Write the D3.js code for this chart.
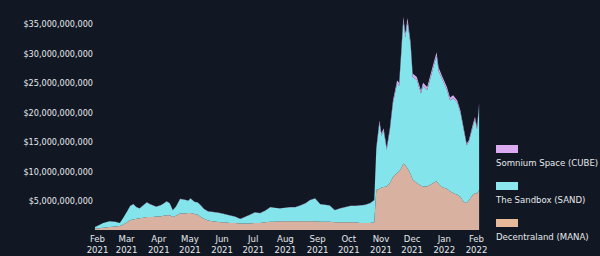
<!DOCTYPE html>
<html>
<head>
<meta charset="utf-8">
<script src="https://cdn.jsdelivr.net/npm/d3@7"></script>
<style>
    body { margin: 0; background: #111823; }
    svg text { font-family: "DejaVu Sans", sans-serif; font-stretch: condensed; fill: #e6e8ec; }
</style>
</head>
<body>
<div id="chart"></div>
<script>
// Market cap of metaverse tokens, Feb 2021 - Feb 2022 (values in USD billions)
const dates = [
    "2021-01-30", "2021-02-07", "2021-02-13", "2021-02-19", "2021-02-23", "2021-02-26",
    "2021-03-02", "2021-03-05", "2021-03-08", "2021-03-11", "2021-03-14", "2021-03-18",
    "2021-03-21", "2021-03-24", "2021-03-27", "2021-03-30", "2021-04-03", "2021-04-06",
    "2021-04-09", "2021-04-12", "2021-04-15", "2021-04-18", "2021-04-22", "2021-04-26",
    "2021-04-30", "2021-05-02", "2021-05-06", "2021-05-09", "2021-05-12", "2021-05-15",
    "2021-05-19", "2021-05-23", "2021-05-27", "2021-05-31", "2021-06-04", "2021-06-09",
    "2021-06-14", "2021-06-19", "2021-06-23", "2021-06-28", "2021-07-03", "2021-07-08",
    "2021-07-13", "2021-07-18", "2021-07-22", "2021-07-27", "2021-08-01", "2021-08-06",
    "2021-08-11", "2021-08-16", "2021-08-21", "2021-08-25", "2021-08-30", "2021-09-04",
    "2021-09-09", "2021-09-13", "2021-09-18", "2021-09-23", "2021-09-28", "2021-10-03",
    "2021-10-08", "2021-10-12", "2021-10-17", "2021-10-22", "2021-10-26", "2021-10-28",
    "2021-10-31", "2021-11-02", "2021-11-04", "2021-11-07", "2021-11-10", "2021-11-13",
    "2021-11-17", "2021-11-19", "2021-11-21", "2021-11-23", "2021-11-25", "2021-11-27",
    "2021-11-30", "2021-12-02", "2021-12-06", "2021-12-10", "2021-12-12", "2021-12-16",
    "2021-12-21", "2021-12-25", "2021-12-27", "2021-12-30", "2022-01-04", "2022-01-07",
    "2022-01-10", "2022-01-14", "2022-01-17", "2022-01-20", "2022-01-23", "2022-01-25",
    "2022-01-29", "2022-01-31", "2022-02-02", "2022-02-04"
];

const mana = [
    0.2, 0.4, 0.5, 0.6, 0.7, 0.9,
    1.3, 1.7, 1.8, 1.9, 2.0, 2.1,
    2.2, 2.2, 2.2, 2.3, 2.3, 2.4,
    2.5, 2.5, 2.2, 2.4, 2.8, 2.8,
    2.9, 2.9, 2.7, 2.6, 2.2, 1.9,
    1.6, 1.5, 1.4, 1.3, 1.3, 1.2,
    1.2, 1.1, 1.1, 1.1, 1.2, 1.2,
    1.3, 1.4, 1.4, 1.5, 1.5, 1.5,
    1.5, 1.5, 1.5, 1.5, 1.5, 1.4,
    1.4, 1.4, 1.3, 1.3, 1.3, 1.3,
    1.3, 1.2, 1.2, 1.2, 1.3, 6.8,
    7.0, 7.2, 7.3, 7.4, 8.0, 9.0,
    9.7, 10.0, 10.5, 11.3, 11.0, 10.5,
    9.5, 8.6, 8.0, 7.5, 7.4, 7.4,
    7.9, 8.3, 7.8, 7.3, 7.0, 6.6,
    6.3, 6.0, 5.6, 4.8, 4.6, 5.0,
    6.0, 6.3, 6.2, 6.8
];

const sand = [
    0.28, 0.78, 0.98, 0.78, 0.48, 1.08,
    1.86, 2.36, 2.56, 1.96, 1.66, 2.16,
    2.46, 2.16, 1.96, 1.66, 1.86, 2.06,
    2.36, 2.06, 1.16, 1.56, 2.46, 2.36,
    2.06, 2.46, 2.06, 2.06, 1.96, 1.66,
    1.56, 1.56, 1.56, 1.56, 1.36, 1.26,
    1.06, 0.76, 1.06, 1.46, 1.76, 1.66,
    1.96, 2.46, 2.36, 2.16, 2.26, 2.36,
    2.36, 2.66, 3.06, 3.56, 3.86, 2.96,
    2.86, 2.76, 2.06, 2.36, 2.56, 2.76,
    2.76, 2.96, 3.06, 3.36, 3.76, 6.9,
    11.2, 8.8, 9.6, 6.2, 8.9, 12.5,
    15.2, 14.5, 19.4, 24.2, 21.7, 24.8,
    21.9, 17.4, 17.5, 15.7, 17.1, 16.4,
    19.1, 21.3, 19.2, 18.5, 16.8, 15.4,
    16.1, 15.6, 14.3, 12.3, 9.8, 9.9,
    11.6, 12.5, 10.9, 14.3
];

const cube = [
    0.02, 0.02, 0.02, 0.02, 0.02, 0.02,
    0.04, 0.04, 0.04, 0.04, 0.04, 0.04,
    0.04, 0.04, 0.04, 0.04, 0.04, 0.04,
    0.04, 0.04, 0.04, 0.04, 0.04, 0.04,
    0.04, 0.04, 0.04, 0.04, 0.04, 0.04,
    0.04, 0.04, 0.04, 0.04, 0.04, 0.04,
    0.04, 0.04, 0.04, 0.04, 0.04, 0.04,
    0.04, 0.04, 0.04, 0.04, 0.04, 0.04,
    0.04, 0.04, 0.04, 0.04, 0.04, 0.04,
    0.04, 0.04, 0.04, 0.04, 0.04, 0.04,
    0.04, 0.04, 0.04, 0.04, 0.04, 0.3,
    0.4, 0.4, 0.4, 0.4, 0.4, 0.5,
    0.5, 0.5, 0.6, 0.7, 0.7, 0.7,
    0.6, 0.6, 0.5, 0.5, 0.5, 0.5,
    0.6, 0.6, 0.6, 0.5, 0.5, 0.5,
    0.5, 0.4, 0.4, 0.4, 0.3, 0.3,
    0.4, 0.4, 0.4, 0.4
];

const seriesNames = ["Decentraland (MANA)", "The Sandbox (SAND)", "Somnium Space (CUBE)"];
const yTicks = [5e9, 10e9, 15e9, 20e9, 25e9, 30e9, 35e9];
const monthTicks = [
    "2021-02-01", "2021-03-01", "2021-04-01", "2021-05-01", "2021-06-01", "2021-07-01",
    "2021-08-01", "2021-09-01", "2021-10-01", "2021-11-01", "2021-12-01", "2022-01-01", "2022-02-01"
];

const areaColors = ["#d9b1a1", "#84e4ec", "#d9aaec"];
const legendColors = ["#e6ba98", "#8be6ee", "#dcaaf0"];

const width = 600, height = 256;
const parse = d3.timeParse("%Y-%m-%d");

const rows = dates.map((d, i) => ({
    date: parse(d),
    mana: mana[i] * 1e9,
    sand: sand[i] * 1e9,
    cube: cube[i] * 1e9
}));

const stack = d3.stack().keys(["mana", "sand", "cube"]);
const layers = stack(rows);

const x = d3.scaleTime()
    .domain([parse("2021-02-01"), parse("2022-02-01")])
    .range([97, 476]);

const y = d3.scaleLinear()
    .domain([0, 35e9])
    .range([230, 24]);

const svg = d3.select("#chart")
    .append("svg")
    .attr("width", width)
    .attr("height", height);

const area = d3.area()
    .x(d => x(d.data.date))
    .y0(d => y(d[0]))
    .y1(d => y(d[1]));

svg.selectAll(".layer")
    .data(layers)
    .enter()
    .append("path")
    .attr("class", "layer")
    .attr("d", area)
    .attr("fill", (d, i) => areaColors[i]);

// y axis: labels only
const yAxis = svg.append("g")
    .attr("transform", "translate(93,0)")
    .call(d3.axisLeft(y).tickValues(yTicks).tickSize(0).tickPadding(0)
        .tickFormat(d => "$" + d3.format(",")(d)));
yAxis.select(".domain").remove();
yAxis.selectAll("text")
    .style("font-size", "9px")
    .attr("fill", "#e6e8ec");

// x axis: month and year on two lines
const xAxis = svg.append("g")
    .attr("transform", "translate(0,232)")
    .call(d3.axisBottom(x).tickValues(monthTicks.map(parse)).tickSize(0).tickFormat(""));
xAxis.select(".domain").remove();
xAxis.selectAll(".tick").each(function (d) {
    const t = d3.select(this).append("text")
        .attr("text-anchor", "middle")
        .style("font-size", "9.5px")
        .attr("fill", "#e6e8ec");
    t.append("tspan").attr("x", 0).attr("y", 10).text(d3.timeFormat("%b")(d));
    t.append("tspan").attr("x", 0).attr("y", 21).text(d3.timeFormat("%Y")(d));
});

// legend, top to bottom: CUBE, SAND, MANA
const legendOrder = [2, 1, 0];
const legend = svg.selectAll(".legend")
    .data(legendOrder)
    .enter()
    .append("g")
    .attr("class", "legend")
    .attr("transform", (d, i) => `translate(496,${145 + i * 37})`);

legend.append("rect")
    .attr("width", 22)
    .attr("height", 8)
    .attr("fill", d => legendColors[d]);

legend.append("text")
    .attr("x", 0)
    .attr("y", 21)
    .style("font-size", "9.5px")
    .attr("fill", "#e6e8ec")
    .text(d => seriesNames[d]);
</script>
</body>
</html>
